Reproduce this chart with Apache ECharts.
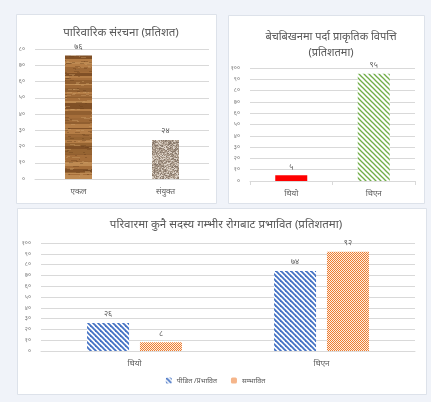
<!DOCTYPE html>
<html><head><meta charset="utf-8">
<script src="https://cdn.jsdelivr.net/npm/echarts@6/dist/echarts.min.js"></script>
<style>html,body{margin:0;padding:0;background:#f0f3f9;}#c{width:431px;height:402px;}</style>
</head><body><div id="c"></div>
<script>
// ---- data ----
const cats1 = ['एकल', 'संयुक्त'];
const vals1 = [76, 24];
const cats2 = ['थियो', 'थिएन'];
const vals2 = [5, 95];
const cats3 = ['थियो', 'थिएन'];
const victimVals = [26, 74];
const potentialVals = [8, 92];
const seriesNames3 = ['पीडित /प्रभावित', 'सम्भावित'];
const ticks80 = ['०','१०','२०','३०','४०','५०','६०','७०','८०'];
const ticks100 = ['०','१०','२०','३०','४०','५०','६०','७०','८०','९०','१००'];
const devDigits = ['०','१','२','३','४','५','६','७','८','९'];
const title1 = 'पारिवारिक संरचना (प्रतिशत)';
const title2 = 'बेचबिखनमा पर्दा प्राकृतिक विपत्ति\n(प्रतिशतमा)';
const title3 = 'परिवारमा कुनै सदस्य गम्भीर रोगबाट प्रभावित (प्रतिशतमा)';

function toDev(n){ return String(n).split('').map(c => /[0-9]/.test(c) ? devDigits[+c] : c).join(''); }

// ---- textures (style only) ----
function rng(seed){ let s = seed; return () => { s = (s * 1103515245 + 12345) & 0x7fffffff; return s / 0x7fffffff; }; }
function woodPattern(){
  const c = document.createElement('canvas'); c.width = 40; c.height = 140;
  const g = c.getContext('2d'); const r = rng(7);
  const base = [[165,110,58],[145,95,48],[180,125,70],[128,80,38],[158,105,55],[190,138,82],[150,100,50]];
  let y = 0;
  while (y < 140) {
    const h = 1 + Math.floor(r() * 4);
    const b = base[Math.floor(r() * base.length)];
    g.fillStyle = 'rgb(' + b.join(',') + ')';
    g.fillRect(0, y, 40, h);
    y += h;
  }
  for (let i = 0; i < 250; i++) {
    const x = Math.floor(r() * 40), yy = Math.floor(r() * 140);
    g.fillStyle = r() < 0.5 ? 'rgba(100,60,25,0.35)' : 'rgba(205,160,105,0.4)';
    g.fillRect(x, yy, 2 + Math.floor(r() * 5), 1);
  }
  return c;
}
function granitePattern(){
  const c = document.createElement('canvas'); c.width = 48; c.height = 48;
  const g = c.getContext('2d'); const r = rng(11);
  const cols = ['#a89888','#c4b8ab','#85766a','#ddd3c9','#9a8a7b','#b5a596'];
  for (let x = 0; x < 48; x++) for (let y = 0; y < 48; y++) {
    g.fillStyle = cols[Math.floor(r() * cols.length)];
    g.fillRect(x, y, 1, 1);
  }
  return c;
}
function hatchPattern(color, size, lw){
  const c = document.createElement('canvas'); c.width = size; c.height = size;
  const g = c.getContext('2d');
  g.fillStyle = '#ffffff'; g.fillRect(0, 0, size, size);
  g.strokeStyle = color; g.lineWidth = lw;
  for (let k = -1; k <= 1; k++) {
    g.beginPath(); g.moveTo(-1, k * size - 1); g.lineTo(size + 1, k * size + size + 1); g.stroke();
  }
  return c;
}
function checkerPattern(color, light){
  const c = document.createElement('canvas'); c.width = 2; c.height = 2;
  const g = c.getContext('2d');
  g.fillStyle = light; g.fillRect(0, 0, 2, 2);
  g.fillStyle = color; g.fillRect(0, 0, 1, 1); g.fillRect(1, 1, 1, 1);
  return c;
}
const woodFill = { image: woodPattern(), repeat: 'repeat' };
const graniteFill = { image: granitePattern(), repeat: 'repeat' };
const blueFill = { image: hatchPattern('#4472c4', 5, 1.8), repeat: 'repeat' };
const greenFill = { image: hatchPattern('#70ad47', 5, 1.3), repeat: 'repeat' };
const orangeFill = { image: checkerPattern('#ed7d31', '#fdeee3'), repeat: 'repeat' };

const FONT = '"Noto Sans", "Noto Sans Devanagari", "Lohit Devanagari", sans-serif';
const grey = '#595959';
const gridLineColor = '#d9d9d9';

function yAxis(gridIndex, max, labels){
  return {
    gridIndex, type: 'value', min: 0, max, interval: 10,
    axisLine: { show: false }, axisTick: { show: false },
    splitLine: { lineStyle: { color: gridLineColor, width: 1 } },
    axisLabel: { color: '#7a7a7a', fontSize: 6, fontFamily: FONT, margin: 10,
      formatter: v => labels[Math.round(v / 10)] }
  };
}
function xAxis(gridIndex, data, ticks){
  return {
    gridIndex, type: 'category', data,
    axisLine: { show: true, lineStyle: { color: gridLineColor } },
    axisTick: { show: ticks, length: 4, lineStyle: { color: gridLineColor } },
    axisLabel: { color: grey, fontSize: 8, fontFamily: FONT, margin: 9 }
  };
}
const labelStyle = { show: true, position: 'top', color: grey, fontSize: 8, fontFamily: FONT, distance: 5,
  formatter: p => toDev(p.value) };

const chart = echarts.init(document.getElementById('c'));
chart.setOption({
  backgroundColor: '#f0f3f9',
  animation: false,
  textStyle: { fontFamily: FONT },
  graphic: [
    { type: 'rect', z: -10, shape: { x: 16.5, y: 14.5, width: 200, height: 189 }, style: { fill: '#ffffff', stroke: '#dde2ea', lineWidth: 1 } },
    { type: 'rect', z: -10, shape: { x: 228.5, y: 15.5, width: 196, height: 188 }, style: { fill: '#ffffff', stroke: '#dde2ea', lineWidth: 1 } },
    { type: 'rect', z: -10, shape: { x: 17.5, y: 208.5, width: 409, height: 186 }, style: { fill: '#ffffff', stroke: '#dde2ea', lineWidth: 1 } }
  ],
  title: [
    { text: title1, left: 116, top: 22, textAlign: 'center', textStyle: { color: grey, fontSize: 11.5, fontWeight: 'normal', fontFamily: FONT } },
    { text: title2, left: 326, top: 24, textAlign: 'center', textStyle: { color: grey, fontSize: 11, fontWeight: 'normal', lineHeight: 16, fontFamily: FONT } },
    { text: title3, left: 221, top: 214, textAlign: 'center', textStyle: { color: grey, fontSize: 11.5, fontWeight: 'normal', fontFamily: FONT } }
  ],
  legend: {
    data: seriesNames3, bottom: 13, left: 'center', itemWidth: 6, itemHeight: 6, itemGap: 14,
    textStyle: { color: grey, fontSize: 7, fontFamily: FONT }
  },
  grid: [
    { left: 35, right: 222, top: 49, bottom: 223 },
    { left: 250, right: 16, top: 68, bottom: 221 },
    { left: 41, right: 16, top: 243, bottom: 51 }
  ],
  xAxis: [ xAxis(0, cats1, false), xAxis(1, cats2, true), xAxis(2, cats3, false) ],
  yAxis: [ yAxis(0, 80, ticks80), yAxis(1, 100, ticks100), yAxis(2, 100, ticks100) ],
  series: [
    { type: 'bar', xAxisIndex: 0, yAxisIndex: 0, barWidth: 27, label: labelStyle,
      data: vals1.map((v, i) => ({ value: v, itemStyle: { color: i === 0 ? woodFill : graniteFill } })) },
    { type: 'bar', xAxisIndex: 1, yAxisIndex: 1, barWidth: 32, label: labelStyle,
      data: vals2.map((v, i) => ({ value: v, itemStyle: { color: i === 0 ? '#ff0000' : greenFill } })) },
    { type: 'bar', name: seriesNames3[0], xAxisIndex: 2, yAxisIndex: 2, barWidth: 42, barGap: '26%', label: labelStyle,
      itemStyle: { color: blueFill }, data: victimVals },
    { type: 'bar', name: seriesNames3[1], xAxisIndex: 2, yAxisIndex: 2, barWidth: 42, barGap: '26%', label: labelStyle,
      itemStyle: { color: orangeFill }, data: potentialVals }
  ]
});
</script></body></html>
